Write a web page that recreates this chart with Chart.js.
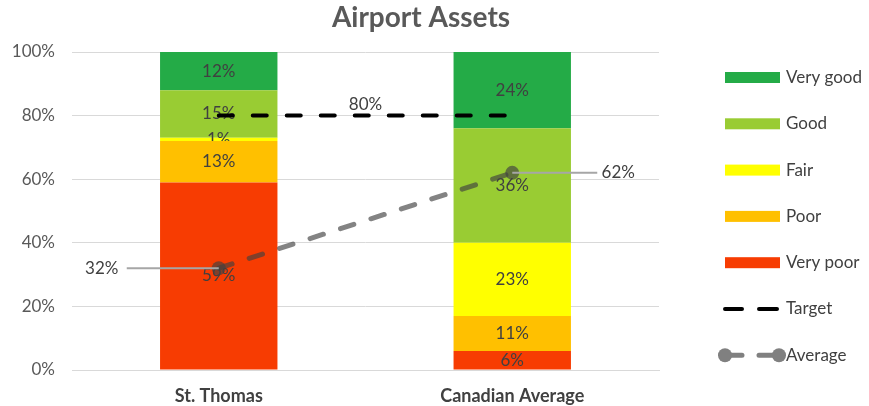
<!DOCTYPE html>
<html lang="en">
<head>
  <meta charset="UTF-8" />
  <title>Airport Assets</title>
  <script src="https://cdn.jsdelivr.net/npm/chart.js"></script>
  <style>
    html, body { margin: 0; padding: 0; background: #fff; }
    #wrap { width: 869px; height: 406px; }
  </style>
</head>
<body>
  <div id="wrap"><canvas id="assetsChart"></canvas></div>

  <script>
    // chart data
    const categories = ["St. Thomas", "Canadian Average"];
    const veryPoor = [59, 6];
    const poor = [13, 11];
    const fair = [1, 23];
    const good = [15, 36];
    const veryGood = [12, 24];
    const target = [80, 80];
    const average = [32, 62];
    const yTicks = [0, 20, 40, 60, 80, 100];

    const FONT = "Lato, 'Open Sans', sans-serif";
    const TXT = "#404040";

    const barSeries = [
      { label: "Very poor", data: veryPoor, color: "#f73c02" },
      { label: "Poor", data: poor, color: "#ffc000" },
      { label: "Fair", data: fair, color: "#ffff00" },
      { label: "Good", data: good, color: "#99cc33" },
      { label: "Very good", data: veryGood, color: "#24ab47" }
    ];

    const datasets = barSeries.map(s => ({
      type: "bar",
      label: s.label,
      data: s.data,
      backgroundColor: s.color,
      borderWidth: 0,
      barPercentage: 1,
      categoryPercentage: 0.4,
      stack: "bars",
      order: 2
    }));

    datasets.push({
      type: "line",
      label: "Target",
      data: target,
      stack: "target",
      borderColor: "#000",
      borderWidth: 4,
      borderDash: [14, 20],
      borderCapStyle: "round",
      pointRadius: 0,
      fill: false,
      order: 1
    });

    datasets.push({
      type: "line",
      label: "Average",
      data: average,
      stack: "average",
      borderColor: "rgba(64,64,64,0.65)",
      backgroundColor: "rgba(64,64,64,0.65)",
      borderWidth: 5,
      borderDash: [14, 18],
      borderCapStyle: "round",
      pointRadius: 7,
      pointBorderWidth: 0,
      fill: false,
      order: 0
    });

    // labels inside each bar segment (drawn under the lines)
    const barLabels = {
      id: "barLabels",
      afterDatasetDraw(chart, args) {
        const ds = chart.data.datasets[args.index];
        if (ds.type !== "bar") return;
        const ctx = chart.ctx;
        ctx.save();
        ctx.font = "17px " + FONT;
        ctx.fillStyle = TXT;
        ctx.textAlign = "center";
        ctx.textBaseline = "middle";
        args.meta.data.forEach((el, i) => {
          const v = ds.data[i];
          if (!v) return;
          ctx.fillText(v + "%", el.x, (el.y + el.base) / 2);
        });
        ctx.restore();
      }
    };

    // title, line value labels, legend
    const extras = {
      id: "extras",
      afterDraw(chart) {
        const ctx = chart.ctx;
        ctx.save();

        ctx.font = "bold 28px " + FONT;
        ctx.fillStyle = "#595959";
        ctx.textAlign = "center";
        ctx.textBaseline = "middle";
        ctx.fillText("Airport Assets", 421, 18);

        ctx.font = "17px " + FONT;
        ctx.fillStyle = TXT;

        // target value label
        const tMeta = chart.getDatasetMeta(5).data;
        const tx = (tMeta[0].x + tMeta[1].x) / 2;
        ctx.fillText(target[0] + "%", tx, tMeta[0].y - 11);

        // average value labels with leader lines
        const aMeta = chart.getDatasetMeta(6).data;
        ctx.strokeStyle = "#a6a6a6";
        ctx.lineWidth = 2;
        ctx.beginPath();
        ctx.moveTo(aMeta[0].x - 92, aMeta[0].y);
        ctx.lineTo(aMeta[0].x, aMeta[0].y);
        ctx.moveTo(aMeta[1].x, aMeta[1].y);
        ctx.lineTo(aMeta[1].x + 85, aMeta[1].y);
        ctx.stroke();
        ctx.fillText(average[0] + "%", aMeta[0].x - 117, aMeta[0].y);
        ctx.fillText(average[1] + "%", aMeta[1].x + 106, aMeta[1].y);

        // legend
        const items = barSeries.slice().reverse().map(s => ({ label: s.label, color: s.color, kind: "box" }));
        items.push({ label: "Target", kind: "target" });
        items.push({ label: "Average", kind: "average" });
        const lx = 725, ly = 77.5, step = 46.3;
        ctx.textAlign = "left";
        items.forEach((it, i) => {
          const y = ly + i * step;
          if (it.kind === "box") {
            ctx.fillStyle = it.color;
            ctx.fillRect(lx, y - 5.5, 55, 11);
          } else if (it.kind === "target") {
            ctx.strokeStyle = "#000";
            ctx.lineWidth = 4;
            ctx.lineCap = "round";
            ctx.beginPath();
            ctx.moveTo(lx, y); ctx.lineTo(lx + 17, y);
            ctx.moveTo(lx + 34, y); ctx.lineTo(lx + 52, y);
            ctx.stroke();
          } else {
            ctx.strokeStyle = "#808080";
            ctx.fillStyle = "#808080";
            ctx.lineWidth = 5;
            ctx.lineCap = "round";
            ctx.beginPath();
            ctx.moveTo(lx, y); ctx.lineTo(lx + 17, y);
            ctx.moveTo(lx + 34, y); ctx.lineTo(lx + 54, y);
            ctx.stroke();
            ctx.beginPath(); ctx.arc(lx, y, 7, 0, Math.PI * 2); ctx.fill();
            ctx.beginPath(); ctx.arc(lx + 54, y, 7, 0, Math.PI * 2); ctx.fill();
          }
          ctx.fillStyle = TXT;
          ctx.fillText(it.label, 786, y);
        });
        ctx.restore();
      }
    };

    new Chart(document.getElementById("assetsChart"), {
      data: { labels: categories, datasets: datasets },
      options: {
        responsive: true,
        maintainAspectRatio: false,
        animation: false,
        layout: { padding: { top: 52, right: 210, bottom: 0, left: 0 } },
        plugins: {
          legend: { display: false },
          tooltip: { enabled: false }
        },
        scales: {
          x: {
            stacked: true,
            grid: { display: false, drawTicks: false },
            border: { color: "#d9d9d9", width: 1 },
            ticks: {
              color: TXT,
              padding: 15,
              font: { family: FONT, size: 18, weight: "bold" }
            },
            afterFit(scale) { scale.height = 36; }
          },
          y: {
            stacked: true,
            min: 0,
            max: 100,
            afterBuildTicks(scale) { scale.ticks = yTicks.map(v => ({ value: v })); },
            grid: { color: "#d9d9d9", lineWidth: 1, drawTicks: false },
            border: { display: false },
            ticks: {
              color: "#595959",
              padding: 17,
              font: { family: FONT, size: 17 },
              callback: v => v + "%"
            },
            afterFit(scale) { scale.width = 72; }
          }
        }
      },
      plugins: [barLabels, extras]
    });
  </script>
</body>
</html>
